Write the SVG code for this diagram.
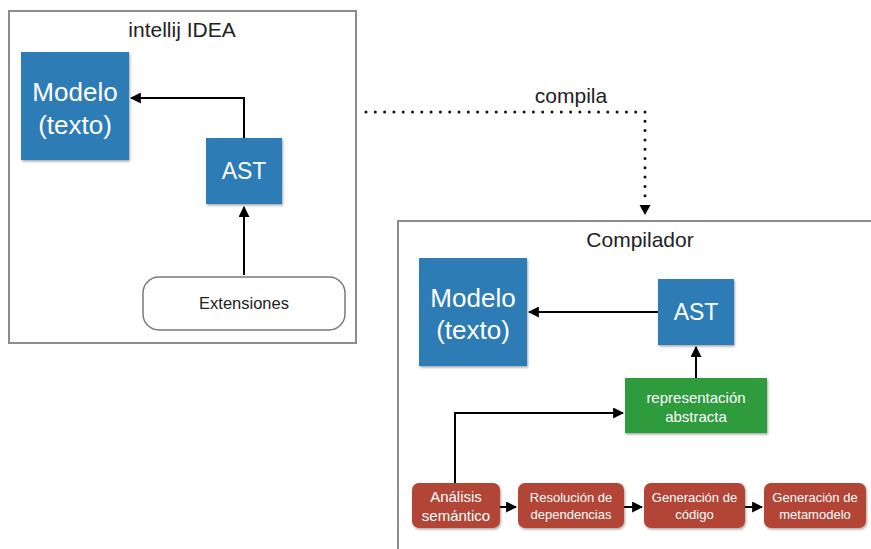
<svg xmlns="http://www.w3.org/2000/svg" width="871" height="549" viewBox="0 0 871 549">
  <style>
    text { font-family: "Liberation Sans", Arial, sans-serif; text-anchor: middle; }
    .frame { fill: #ffffff; stroke: #8c8c8c; stroke-width: 2; }
    .title { font-size: 21px; fill: #222222; }
    .blue { fill: #2f7cb6; filter: url(#shadow); }
    .green { fill: #2f9b3e; filter: url(#shadow); }
    .red { fill: #b24534; filter: url(#shadow); }
    .big { font-size: 26px; fill: #ffffff; }
    .mid { font-size: 23px; fill: #ffffff; }
    .small { font-size: 15px; fill: #ffffff; }
    .tiny { font-size: 13px; fill: #ffffff; }
    .link { fill: none; stroke: #000000; stroke-width: 2; }
    .dots { fill: none; stroke: #111111; stroke-width: 3; stroke-linecap: round; stroke-dasharray: 0 9.3; }
  </style>
  <defs>
    <marker id="arrow" viewBox="0 0 10 10" refX="9" refY="5" markerWidth="5.5" markerHeight="5.5" orient="auto" markerUnits="strokeWidth">
      <path d="M0,0 L10,5 L0,10 z" fill="#000000"/>
    </marker>
    <filter id="shadow" x="-10%" y="-10%" width="125%" height="125%">
      <feDropShadow dx="1" dy="1.5" stdDeviation="1.2" flood-color="#000000" flood-opacity="0.35"/>
    </filter>
  </defs>

  <!-- IDE frame -->
  <g id="ide">
    <rect class="frame" x="9" y="11" width="347" height="332"/>
    <text class="title" x="182" y="37">intellij IDEA</text>
  </g>

  <!-- Compiler frame -->
  <g id="compilador">
    <rect class="frame" x="398" y="221" width="490" height="340"/>
    <text class="title" x="640" y="247" font-size="22">Compilador</text>
  </g>

  <g id="ide-modelo">
    <rect class="blue" x="21" y="52" width="108" height="108"/>
    <text class="big" x="75" y="101">Modelo</text>
    <text class="big" x="75" y="134">(texto)</text>
  </g>

  <g id="ide-ast">
    <rect class="blue" x="206" y="138" width="76" height="66"/>
    <text class="mid" x="244" y="179">AST</text>
  </g>

  <g id="extensiones">
    <rect x="143" y="277" width="202" height="53" rx="16" fill="#ffffff" stroke="#7a7a7a" stroke-width="1.5"/>
    <text x="244" y="309" font-size="16.500" fill="#222222">Extensiones</text>
  </g>

  <g id="comp-modelo">
    <rect class="blue" x="419" y="258" width="108" height="108"/>
    <text class="big" x="473" y="307">Modelo</text>
    <text class="big" x="473" y="339">(texto)</text>
  </g>

  <g id="comp-ast">
    <rect class="blue" x="658" y="279" width="76" height="66"/>
    <text class="mid" x="696" y="320">AST</text>
  </g>

  <g id="representacion">
    <rect class="green" x="625" y="378" width="142" height="55"/>
    <text class="small" x="696" y="403">representación</text>
    <text class="small" x="696" y="422">abstracta</text>
  </g>

  <g id="analisis">
    <rect class="red" x="412" y="483" width="88" height="45" rx="7"/>
    <text x="456" y="502" font-size="15" fill="#ffffff">Análisis</text>
    <text x="456" y="521" font-size="15" fill="#ffffff">semántico</text>
  </g>

  <g id="resolucion">
    <rect class="red" x="518" y="483" width="106" height="45" rx="7"/>
    <text class="tiny" x="571" y="502">Resolución de</text>
    <text class="tiny" x="571" y="519">dependencias</text>
  </g>

  <g id="gen-codigo">
    <rect class="red" x="644" y="483" width="101" height="45" rx="7"/>
    <text class="tiny" x="694.500" y="502">Generación de</text>
    <text class="tiny" x="694.500" y="519">código</text>
  </g>

  <g id="gen-metamodelo">
    <rect class="red" x="764" y="483" width="102" height="45" rx="7"/>
    <text class="tiny" x="815" y="502">Generación de</text>
    <text class="tiny" x="815" y="519">metamodelo</text>
  </g>

  <!-- Connectors -->
  <g id="connectors">
    <path class="link" d="M244,138 V98 H131" marker-end="url(#arrow)"/>
    <path class="link" d="M244,275 V207" marker-end="url(#arrow)"/>
    <path class="link" d="M658,312 H529" marker-end="url(#arrow)"/>
    <path class="link" d="M696,378 V347" marker-end="url(#arrow)"/>
    <path class="link" d="M455,483 V413 H623" marker-end="url(#arrow)"/>
    <path class="link" d="M500,507 H516" marker-end="url(#arrow)"/>
    <path class="link" d="M624,507 H642" marker-end="url(#arrow)"/>
    <path class="link" d="M745,507 H762" marker-end="url(#arrow)"/>
    <path class="dots" d="M366,112 H645 V205"/>
    <path d="M639.500,205 L650.500,205 L645,215 z" fill="#000000"/>
    <text x="571" y="103" font-size="21" fill="#222222">compila</text>
  </g>
</svg>
